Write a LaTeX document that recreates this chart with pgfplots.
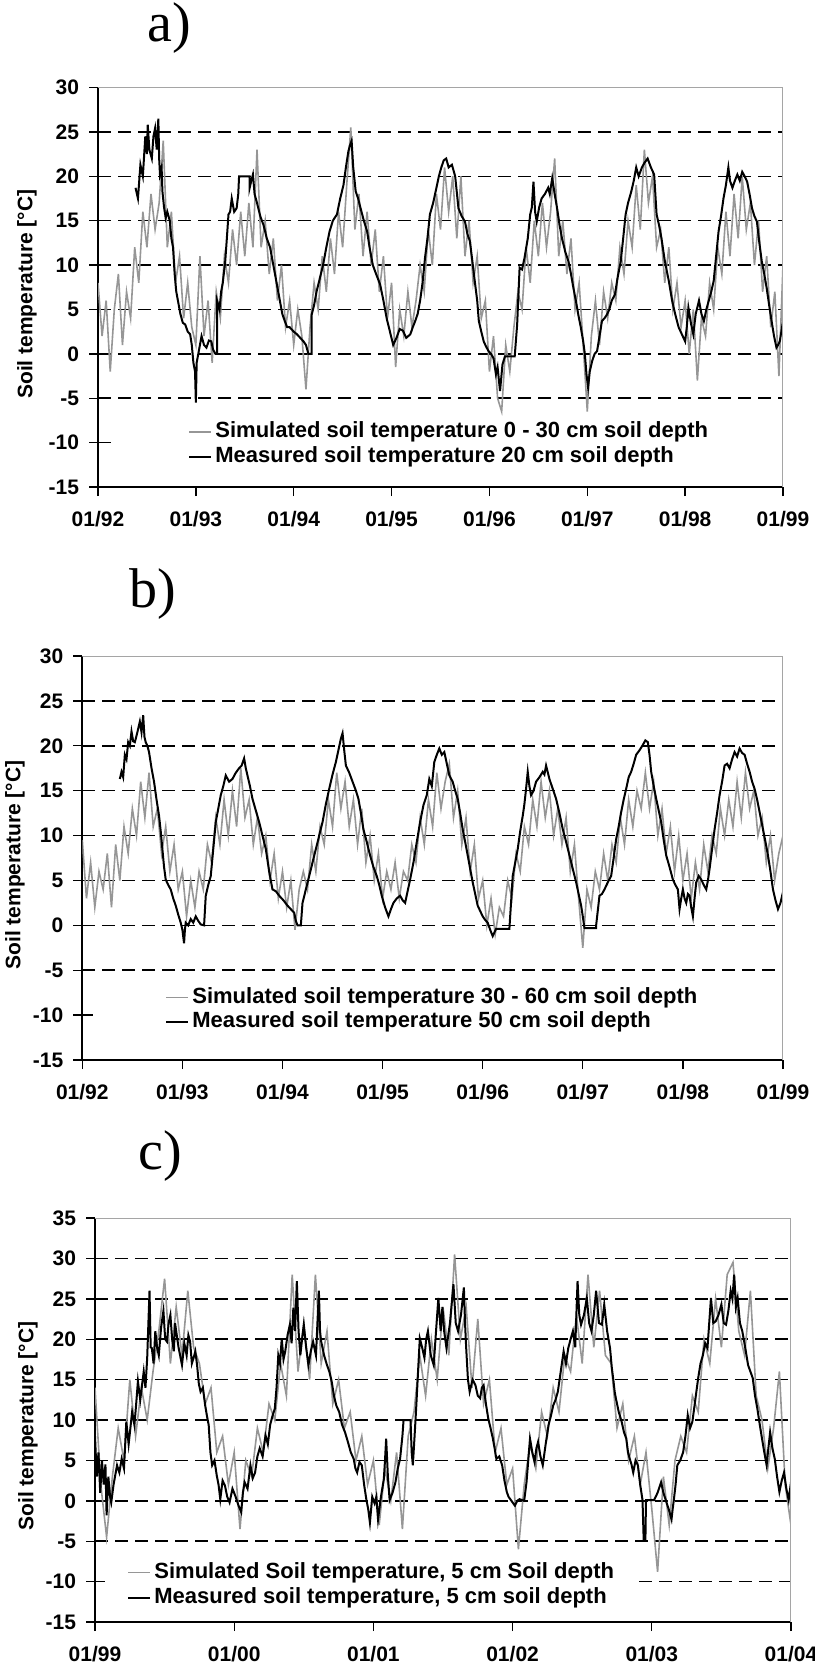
\documentclass[border=0pt]{standalone}
\usepackage{fontspec}
\setmainfont{Liberation Sans}
\newfontfamily\panelfont{Liberation Serif}
\usepackage{pgfplots}
\pgfplotsset{compat=1.18}
\definecolor{simgray}{RGB}{150,150,150}
\definecolor{framegray}{RGB}{165,165,165}

\pgfplotsset{
  soilaxis/.style={
    scale only axis,
    axis x line=bottom, axis y line=left,
    axis line style={-, line width=0.8pt, black},
    tick align=outside,
    major tick length=4.5pt,
    tick style={black, line width=0.7pt},
    ymajorgrids,
    major grid style={black, line width=0.75pt, dash pattern=on 6.5pt off 3.5pt},
    extra y tick style={grid=none},
    tick label style={font=\fontsize{10.5}{12}\selectfont\bfseries},
    xticklabel style={yshift=-4pt},
    yticklabel style={xshift=-1.5pt},
    ylabel={Soil temperature [°C]},
    ylabel style={font=\fontsize{10.5}{12}\selectfont\bfseries, anchor=center},
    title style={font=\panelfont\fontsize{28}{30}\selectfont, anchor=center},
    legend style={draw=none, fill=none, inner sep=0pt, row sep=2pt, column sep=1.5pt,
      font=\fontsize{11}{13}\selectfont\bfseries,
      nodes={inner sep=0pt, text height=8pt, text depth=2.5pt}, anchor=west},
    legend cell align=left,
    legend image code/.code={\draw[#1] (0pt,0pt) -- (11pt,0pt);},
  },
  sim/.style={simgray, line width=0.8pt},
  meas/.style={black, line width=1pt},
  gridpiece/.style={black, line width=0.75pt, dash pattern=on 6.5pt off 3.5pt, forget plot},
}

\begin{document}
\begin{tikzpicture}
\useasboundingbox (0,0) rectangle (407pt,-834pt);

% ---------------- a) ----------------
\begin{axis}[soilaxis,
  at={(49pt,-243.5pt)}, anchor=south west,
  width=342.5pt, height=199.75pt,
  xmin=0, xmax=84, ymin=-15, ymax=30,
  xtick={0,12,...,84},
  xticklabels={01/92,01/93,01/94,01/95,01/96,01/97,01/98,01/99},
  ytick={-5,0,...,25}, yticklabels={-5,0,5,10,15,20,25},
  extra y ticks={-15,-10,30}, extra y tick labels={-15,-10,30},
  ylabel style={at={(axis description cs:-0.1036,0.4825)}},
  title={a)}, title style={at={(axis description cs:0.1036,1.119)}},
  legend style={at={(axis description cs:0.1314,0.106)}},
]
\addplot[gridpiece] coordinates {(0,-10)(1.65,-10)};
\addplot[sim] coordinates {
(0,8)(0.5,2)(1,6)(1.5,-2)(2,5)(2.5,9)(3,1)(3.5,7)(4,4)(4.5,12)(5,8)(5.5,16)(6,12)(6.5,18)(7,14)(7.5,17)(8,24)(8.5,12)(9,16)(9.5,8)
(10,11)(10.5,4)(11,8)(11.5,3)(12,1)(12.5,11)(13,2)(13.5,6)(14,-1)(14.5,7)(15,4)(15.5,11)(16,8)(16.5,14)(17,10)(17.5,16)(18,11)(18.5,17)(19,12)(19.5,23)
(20,12)(20.5,15)(21,9)(21.5,13)(22,6)(22.5,10)(23,3)(23.5,6)(24,1)(24.5,5)(25,2)(25.5,-4)(26,3)(26.5,8)(27,5)(27.5,11)(28,7)(28.5,13)(29,9)(29.5,16)
(30,12)(30.5,19)(31,25.5)(31.5,14)(32,18)(32.5,11)(33,16)(33.5,10)(34,14)(34.5,7)(35,11)(35.5,4)(36,8)(36.5,-1.5)(37,5)(37.5,2)(38,7)(38.5,3)(39,6)(39.5,10)
(40,7)(40.5,14)(41,10)(41.5,18)(42,14)(42.5,21)(43,16)(43.5,20)(44,13)(44.5,20)(45,11)(45.5,15)(46,8)(46.5,11)(47,4)(47.5,6)(48,-2)(48.5,2)(49,-5)(49.5,-6.5)
(50,1)(50.5,-2)(51,3)(51.5,7)(52,5)(52.5,12)(53,8)(53.5,15)(54,11)(54.5,17)(55,12)(55.5,16)(56,22)(56.5,11)(57,15)(57.5,9)(58,13)(58.5,5)(59,8)(59.5,1)
(60,-6.5)(60.5,2)(61,6)(61.5,1)(62,7)(62.5,4)(63,8)(63.5,6)(64,12)(64.5,9)(65,15)(65.5,12)(66,19)(66.5,14)(67,23)(67.5,17)(68,20)(68.5,12)(69,14)(69.5,8)
(70,12)(70.5,5)(71,8)(71.5,3)(72,6)(72.5,0)(73,5)(73.5,-3)(74,4)(74.5,2)(75,8)(75.5,5)(76,12)(76.5,9)(77,16)(77.5,11)(78,18)(78.5,13)(79,20)(79.5,14)
(80,17)(80.5,10)(81,15)(81.5,7)(82,11)(82.5,3)(83,7)(83.5,-2.5)(84,10)
};
\addlegendentry{Simulated soil temperature 0 - 30 cm soil depth}
\addplot[meas] coordinates {
(4.6,18.7)(4.9,17.5)(5.2,21.3)(5.5,20)(5.8,24.5)(6.0,22.5)(6.1,25.8)(6.3,23)(6.6,22)(6.8,24.5)(7.0,25.4)(7.2,23)(7.4,26.5)(7.5,22)(7.6,20.2)(7.8,21)(7.9,18.3)(8.1,16.5)(8.3,15.3)(8.5,16)
(8.8,15)(9.0,13)(9.2,12)(9.4,9)(9.6,7)(9.8,6)(10.1,4.5)(10.4,3.5)(10.7,3.3)(11.0,2.5)(11.3,2.2)(11.5,1)(11.7,-1)(11.9,-2)(12.0,-5.5)(12.1,-1)(12.3,0)(12.5,1)(12.7,2)(13.0,1)
(13.3,0.7)(13.6,1.5)(13.9,1.4)(14.1,0.5)(14.4,0)(14.6,0)(14.6,6)(14.9,5)(15.1,7)(15.3,8)(15.6,10.4)(15.8,13)(16.0,15.7)(16.2,16)(16.4,17.5)(16.7,16)(17.0,16.4)(17.2,18)(17.3,20)(18.6,20)
(18.6,18.7)(18.8,19.5)(19.0,20.2)(19.2,18)(19.5,17)(19.9,15.5)(20.3,14.5)(20.7,13)(21.1,12)(21.4,10.5)(21.7,9)(22.0,7.5)(22.3,6)(22.6,4.5)(22.9,3.7)(23.2,3)(23.5,3)(24.0,2.5)(24.4,2.2)(24.8,1.8)
(25.2,1.4)(25.5,1)(25.8,0)(26.2,0)(26.2,4.4)(26.5,5.5)(26.8,7)(27.2,8.5)(27.6,10)(28.0,12)(28.4,13.8)(28.8,15)(29.3,15.7)(29.7,17.5)(30.1,19)(30.4,21)(30.7,22.8)(30.9,23.5)(31.1,24)(31.3,21)
(31.6,18.3)(31.9,17.5)(32.2,16.4)(32.6,15)(33.0,13.8)(33.3,12)(33.7,10)(34.1,9)(34.6,7.8)(35.0,6)(35.4,4)(35.8,2.5)(36.2,1)(36.6,1.8)(37.0,2.8)(37.4,2.6)(37.8,1.8)(38.3,2.2)(38.6,3)(38.9,3.7)
(39.2,4.5)(39.5,6)(39.8,8)(40.1,10.8)(40.4,13)(40.7,15.7)(41.1,17)(41.5,18.7)(41.8,20)(42.1,21)(42.4,21.8)(42.7,22)(43.0,21)(43.4,21.3)(43.8,20)(44.2,16.4)(44.6,15.5)(45.0,14.9)(45.3,13.5)(45.6,12.7)
(45.9,10.5)(46.2,8.2)(46.5,6)(46.7,3.7)(47.0,2.5)(47.3,1.4)(47.6,0.8)(47.9,0.3)(48.2,0)(48.5,-0.5)(48.8,-2.3)(49.0,-1.5)(49.3,-4.2)(49.6,-1.2)(49.9,-0.3)(51.1,-0.3)(51.4,3.3)(51.7,9.7)(52.0,9.5)(52.3,10.8)
(52.7,13)(53.0,15.7)(53.2,16.5)(53.4,19.4)(53.6,16)(53.8,14.9)(54.1,16.5)(54.4,17.5)(54.8,18)(55.2,18.7)(55.4,18)(55.7,19.8)(56.0,18)(56.3,16.4)(56.6,14.5)(56.9,13)(57.3,11.5)(57.7,10.4)(58.0,9)(58.3,7.4)
(58.6,6)(58.9,4.4)(59.2,3)(59.5,1.4)(59.7,0)(59.9,-2.3)(60.1,-3.8)(60.3,-2)(60.6,-0.8)(60.9,0)(61.2,0.3)(61.5,2)(61.8,3.7)(62.1,4)(62.4,4.4)(62.7,5)(63.0,6)(63.4,6.7)(63.7,8.5)(64.1,10.4)
(64.4,13)(64.7,15.7)(65.0,17)(65.4,18.3)(65.7,19.5)(66.0,21)(66.3,20)(66.7,21)(67.0,21.5)(67.4,22)(67.8,21)(68.2,20.2)(68.5,15.7)(68.8,14.5)(69.1,13)(69.5,10.5)(70.0,8.2)(70.4,6)(70.8,4.4)(71.2,3)
(71.6,2.2)(72.0,1.4)(72.2,3)(72.4,5.2)(72.7,3.5)(73.0,2.2)(73.3,4.5)(73.7,6)(74.0,4.5)(74.3,3.7)(74.6,5)(74.9,6)(75.2,7)(75.5,8.2)(75.8,11)(76.1,13.8)(76.4,15.5)(76.7,17.5)(77.0,19)(77.3,21)
(77.5,19.5)(77.8,18.7)(78.1,19.5)(78.4,20.2)(78.7,19.5)(79.0,20.5)(79.3,20)(79.6,19.4)(79.9,18)(80.2,16.4)(80.5,15.5)(80.8,14.9)(81.1,12.5)(81.4,10.4)(81.7,9)(82.0,7.4)(82.3,5.5)(82.6,3.7)(82.9,2)(83.2,0.7)
(83.4,1)(83.6,1.4)(83.8,2.5)(84.0,3.7)
};
\addlegendentry{Measured soil temperature 20 cm soil depth}
\draw[framegray, line width=0.5pt] (rel axis cs:0,1) -- (rel axis cs:1,1) -- (rel axis cs:1,0);
\end{axis}

% ---------------- b) ----------------
\begin{axis}[soilaxis,
  at={(41.15pt,-530pt)}, anchor=south west,
  width=350.35pt, height=202pt,
  xmin=0, xmax=84, ymin=-15, ymax=30,
  xtick={0,12,...,84},
  xticklabels={01/92,01/93,01/94,01/95,01/96,01/97,01/98,01/99},
  ytick={-5,0,...,25}, yticklabels={-5,0,5,10,15,20,25},
  extra y ticks={-15,-10,30}, extra y tick labels={-15,-10,30},
  ylabel style={at={(axis description cs:-0.096,0.4827)}},
  title={b)}, title style={at={(axis description cs:0.1009,1.124)}},
  legend style={at={(axis description cs:0.118,0.1238)}},
]
\addplot[gridpiece] coordinates {(0,-10)(1.28,-10)};
\addplot[sim] coordinates {
(0,9.5)(0.5,3)(1,7)(1.5,2)(2,6)(2.5,4)(3,8)(3.5,2)(4,9)(4.5,5)(5,11)(5.5,8)(6,13)(6.5,10)(7,16)(7.5,12)(8,17)(8.5,11)(9,13)(9.5,8)
(10,11)(10.5,6)(11,9)(11.5,4)(12,6)(12.5,1)(13,5)(13.5,2)(14,6)(14.5,4)(15,9)(15.5,7)(16,12)(16.5,9)(17,14)(17.5,10)(18,15)(18.5,11)(19,17.5)(19.5,12)
(20,14)(20.5,9)(21,12)(21.5,8)(22,10)(22.5,5)(23,8)(23.5,3)(24,6)(24.5,2)(25,5)(25.5,-0.5)(26,4)(26.5,6)(27,4)(27.5,9)(28,6)(28.5,11)(29,9)(29.5,14)
(30,11)(30.5,17)(31,13)(31.5,16)(32,11)(32.5,14)(33,9)(33.5,13)(34,7)(34.5,10)(35,5)(35.5,8)(36,3)(36.5,6)(37,4)(37.5,7)(38,3)(38.5,6)(39,5)(39.5,9)
(40,7)(40.5,12)(41,9)(41.5,14)(42,11)(42.5,17)(43,13)(43.5,16)(44,18)(44.5,12)(45,15)(45.5,9)(46,12)(46.5,6)(47,9)(47.5,3)(48,5)(48.5,0)(49,3)(49.5,-1)
(50,2)(50.5,1)(51,5)(51.5,3)(52,8)(52.5,6)(53,11)(53.5,9)(54,14)(54.5,11)(55,16)(55.5,12)(56,15)(56.5,10)(57,13)(57.5,9)(58,12)(58.5,6)(59,9)(59.5,3)
(60,-2.5)(60.5,4)(61,2)(61.5,6)(62,4)(62.5,8)(63,5)(63.5,9)(64,7)(64.5,12)(65,9)(65.5,14)(66,11)(66.5,15)(67,13)(67.5,17)(68,13)(68.5,16)(69,10)(69.5,13)
(70,8)(70.5,11)(71,6)(71.5,10)(72,5)(72.5,8)(73,3)(73.5,7)(74,4)(74.5,9)(75,6)(75.5,10)(76,8)(76.5,13)(77,10)(77.5,14)(78,11)(78.5,16)(79,12)(79.5,17)
(80,13)(80.5,15)(81,10)(81.5,12)(82,7)(82.5,10)(83,5)(83.5,8)(84,10)
};
\addlegendentry{Simulated soil temperature 30 - 60 cm soil depth}
\addplot[meas] coordinates {
(4.5,16.3)(4.7,17.1)(4.9,16.5)(5.1,19)(5.3,18.5)(5.5,20.4)(5.7,20)(5.9,21.6)(6.1,20.5)(6.3,20.4)(6.6,21.5)(6.9,22.7)(7.1,21.5)(7.3,23.4)(7.45,21)(7.6,20.4)(7.8,20)(8.0,19.3)(8.3,17.5)(8.6,16)
(8.9,14)(9.2,12.2)(9.4,10.5)(9.6,8.5)(9.8,6.5)(10.0,5.1)(10.3,4.5)(10.6,4)(10.9,3)(11.2,2.2)(11.5,1.2)(11.8,0.3)(12.0,-0.5)(12.2,-2)(12.3,-0.5)(12.4,0.3)(12.7,0)(13.0,0.7)(13.3,0.3)(13.6,1)
(13.9,0.5)(14.2,0.1)(14.6,0)(14.8,3.3)(15.1,4.5)(15.4,5.5)(15.7,8.5)(16.0,11.5)(16.3,13)(16.6,14.5)(16.9,15.5)(17.2,16.7)(17.6,16)(18.0,16.3)(18.4,17)(18.8,17.5)(19.1,17.8)(19.4,18.6)(19.6,17.5)(19.8,16.7)
(20.1,15.5)(20.4,14.1)(20.8,12.8)(21.2,11.5)(21.6,10)(22.0,8.5)(22.4,6)(22.8,4)(23.2,3.8)(23.6,3.3)(24.1,2.8)(24.6,2.2)(25.0,1.8)(25.4,1.4)(25.6,0.5)(25.8,0)(26.2,0)(26.4,2.5)(26.8,4)(27.2,5.5)
(27.6,7)(28.0,8.5)(28.4,10)(28.8,11.5)(29.2,13.5)(29.6,15.2)(30.0,16.8)(30.4,18.2)(30.7,19.5)(31.0,20.8)(31.2,21.4)(31.4,19.5)(31.6,17.8)(32.0,17)(32.4,16)(32.8,15)(33.1,14.1)(33.4,12.5)(33.7,10.7)(34.1,9.3)
(34.5,7.8)(34.9,6.5)(35.3,5.5)(35.6,4.5)(35.9,3.3)(36.3,2)(36.7,1)(37.0,1.8)(37.3,2.5)(37.7,3)(38.1,3.3)(38.4,2.8)(38.7,2.5)(39.0,3.8)(39.3,5.1)(39.7,7)(40.1,9.3)(40.5,11.5)(40.9,13.4)(41.3,14.5)
(41.6,16.3)(41.9,15.5)(42.2,18.2)(42.5,19)(42.8,19.7)(43.1,19)(43.4,19.3)(43.7,18)(44.0,16.7)(44.4,16)(44.7,15)(45.0,14.1)(45.3,12.5)(45.6,10.7)(45.9,9.3)(46.2,7.8)(46.5,6.3)(46.8,4.8)(47.1,3.5)(47.4,2.2)
(47.7,1.6)(48.0,1)(48.3,0.6)(48.6,0.3)(48.9,-0.5)(49.2,-1.2)(49.4,-0.8)(49.6,-0.4)(51.2,-0.4)(51.6,5.5)(51.9,7)(52.2,8.5)(52.5,10.5)(52.8,12.2)(53.0,13.5)(53.2,15.2)(53.4,17.1)(53.6,15.5)(53.8,14.5)(54.1,15)
(54.4,16)(54.8,16.5)(55.2,17.1)(55.4,16.8)(55.6,17.8)(56.0,16.3)(56.4,15.2)(56.8,14.1)(57.2,12.5)(57.6,10.7)(58.0,9.3)(58.4,7.8)(58.8,6.3)(59.2,4.8)(59.5,3.5)(59.8,2.2)(60.0,1)(60.2,-0.3)(61.6,-0.3)(61.6,0)
(62.0,3.3)(62.3,3.5)(62.6,4)(63.0,4.8)(63.4,5.5)(63.7,7.5)(64.0,9.6)(64.3,11)(64.6,12.6)(64.9,14)(65.2,15.2)(65.5,16.5)(65.8,17.1)(66.1,18)(66.4,19)(66.8,19.5)(67.2,20.1)(67.5,20.6)(67.8,20.4)(68.0,19)
(68.2,17.1)(68.5,15.5)(68.8,14.1)(69.1,12.8)(69.4,11.5)(69.7,9.5)(70.0,7.8)(70.4,6.5)(70.8,5.1)(71.1,4.5)(71.4,4)(71.6,1.8)(71.8,3)(72.0,4)(72.2,3)(72.4,2.5)(72.6,3.5)(72.8,3.3)(73.0,2)(73.2,1)
(73.4,3)(73.6,4.8)(73.9,5.5)(74.2,5.1)(74.5,4.5)(74.8,4)(75.0,5)(75.2,6.3)(75.5,8.5)(75.8,10.7)(76.1,12.5)(76.4,14.5)(76.7,16)(77.0,17.8)(77.3,18)(77.6,17.5)(77.9,18.5)(78.2,19.3)(78.5,18.8)(78.8,19.7)
(79.1,19.2)(79.4,19)(79.7,18)(80.0,17.1)(80.3,16)(80.6,15.2)(80.9,14)(81.2,12.6)(81.6,10.7)(81.9,9.3)(82.2,7.8)(82.5,6)(82.8,4)(83.1,2.8)(83.4,1.8)(83.7,2.5)(84.0,3.7)
};
\addlegendentry{Measured soil temperature 50 cm soil depth}
\draw[framegray, line width=0.5pt] (rel axis cs:0,1) -- (rel axis cs:1,1) -- (rel axis cs:1,0);
\end{axis}

% ---------------- c) ----------------
\begin{axis}[soilaxis,
  at={(47.5pt,-811pt)}, anchor=south west,
  width=348pt, height=202pt,
  xmin=0, xmax=60, ymin=-15, ymax=35,
  xtick={0,12,...,60},
  xticklabels={01/99,01/00,01/01,01/02,01/03,01/04},
  ytick={-5,0,...,30}, yticklabels={-5,0,5,10,15,20,25,30},
  extra y ticks={-15,-10,35}, extra y tick labels={-15,-10,35},
  ylabel style={at={(axis description cs:-0.0963,0.485)}},
  title={c)}, title style={at={(axis description cs:0.0934,1.124)}},
  legend style={at={(axis description cs:0.046,0.0916)}},
]
\addplot[gridpiece] coordinates {(0,-10)(0.86,-10)};
\addplot[gridpiece] coordinates {(46.9,-10)(60,-10)};
\addplot[sim] coordinates {
(0,14)(0.5,2)(1,-4.5)(1.5,3)(2,9)(2.5,5)(3,15)(3.5,8)(4,14)(4.5,10)(5,16)(5.5,21)(6,27.5)(6.5,17)(7,24)(7.5,18)(8,26)(8.5,19)(9,17)(9.5,12)
(10,14)(10.5,6)(11,8)(11.5,2)(12,6)(12.5,-3.5)(13,5)(13.5,3)(14,9)(14.5,6)(15,12)(15.5,10)(16,17)(16.5,13)(17,28)(17.5,16)(18,22)(18.5,15)(19,28)(19.5,17)
(20,21)(20.5,12)(21,15)(21.5,9)(22,11)(22.5,5)(23,8)(23.5,2)(24,5)(24.5,-3)(25,4)(25.5,0)(26,6)(26.5,-3.5)(27,8)(27.5,11)(28,18)(28.5,13)(29,20)(29.5,15)
(30,24)(30.5,18)(31,30.5)(31.5,20)(32,24)(32.5,14)(33,22.5)(33.5,12)(34,15)(34.5,6)(35,9)(35.5,2)(36,4)(36.5,-6)(37,2)(37.5,7)(38,4)(38.5,11)(39,8)(39.5,14)
(40,11)(40.5,18)(41,16)(41.5,23)(42,17)(42.5,28)(43,19)(43.5,26)(44,18)(44.5,17)(45,9)(45.5,12)(46,5)(46.5,8)(47,2)(47.5,6)(48,-1)(48.5,-8.8)(49,3)(49.5,-3)
(50,5)(50.5,8)(51,6)(51.5,13)(52,11)(52.5,20)(53,17)(53.5,25)(54,19)(54.5,28)(55,29.5)(55.5,21)(56,18)(56.5,26)(57,13)(57.5,10)(58,4)(58.5,9)(59,16)(59.5,2)
(60,-3)
};
\addlegendentry{Simulated Soil temperature, 5 cm Soil depth}
\addplot[meas] coordinates {
(0,8)(0.15,3)(0.3,6)(0.45,1)(0.6,5)(0.75,2)(0.9,4.5)(1.0,-1.8)(1.15,3)(1.3,0.5)(1.4,-0.2)(1.6,2)(1.9,4.4)(2.1,3.5)(2.3,5.2)(2.5,4)(2.7,9.8)(2.9,7)(3.2,11)(3.4,9.4)
(3.55,12)(3.7,14.8)(3.9,12.5)(4.2,16)(4.35,14)(4.5,17.7)(4.7,26)(4.8,19)(4.9,18.9)(5.05,17)(5.2,21)(5.35,19)(5.5,18)(5.7,21.5)(5.9,23.5)(6.05,20)(6.2,19.7)(6.35,22)(6.5,23)(6.65,20)
(6.8,18.5)(6.9,22)(7.0,21)(7.2,19)(7.5,16.8)(7.7,19.5)(7.9,18)(8.05,20.5)(8.2,19.7)(8.35,17)(8.5,17.7)(8.65,18.5)(8.8,16.8)(8.95,14.5)(9.1,13.5)(9.3,14)(9.5,11.8)(9.65,10.5)(9.8,9.4)(9.95,6)
(10.1,4.4)(10.3,5)(10.5,3.1)(10.65,2)(10.8,0.2)(11.0,2.5)(11.2,1.9)(11.4,0.5)(11.6,-0.2)(11.85,1.5)(12.1,0.6)(12.35,-0.5)(12.6,-1.4)(12.75,1)(12.9,2.3)(13.15,1.5)(13.4,4.4)(13.6,2.8)(13.8,3.5)(14.0,5.5)
(14.2,6.5)(14.45,5.5)(14.7,8.1)(14.9,7)(15.1,9.4)(15.3,10.5)(15.5,11.4)(15.65,14)(15.8,18)(15.95,17)(16.1,20.1)(16.25,17.5)(16.4,18.5)(16.6,20.5)(16.8,21.8)(16.95,19.5)(17.1,23.9)(17.25,21)(17.4,27.2)(17.55,21)
(17.7,18)(17.85,20)(18.0,21.8)(18.2,19)(18.4,16.8)(18.6,18.5)(18.8,19.7)(19.05,18)(19.3,26)(19.4,21)(19.5,19.7)(19.75,18)(20.0,16.8)(20.2,16)(20.4,14.8)(20.6,13)(20.8,11.8)(21.05,11)(21.3,9.4)(21.55,8.5)
(21.8,7.3)(22.05,6)(22.3,5.2)(22.45,4)(22.6,3.5)(22.8,4.8)(23.0,4.4)(23.2,2)(23.4,0.1)(23.55,-1)(23.7,-2.7)(23.9,0.5)(24.1,-0.3)(24.25,0.5)(24.4,-2.3)(24.65,0.5)(24.9,2.7)(25.0,5)(25.1,7.7)(25.25,3)
(25.4,0.1)(25.65,1)(25.9,2.3)(26.1,4)(26.3,5.2)(26.5,8)(26.6,10)(27.2,10)(27.3,6)(27.4,4.4)(27.55,8)(27.7,11.8)(27.85,16)(28.0,20.1)(28.2,19)(28.4,17.7)(28.55,20)(28.7,21)(28.95,18)(29.2,16.8)
(29.4,21)(29.6,25.1)(29.8,21)(29.95,24)(30.1,21)(30.3,18.9)(30.6,22)(30.9,26.8)(31.1,22)(31.3,21)(31.55,23)(31.8,26.4)(31.9,22)(32.0,18.9)(32.15,15)(32.3,13.5)(32.55,15)(32.8,14.3)(33.0,13)(33.2,12.7)
(33.35,14)(33.5,14.3)(33.7,12)(33.9,10.2)(34.1,9)(34.3,7.7)(34.45,6.5)(34.6,5.2)(34.85,5.5)(35.1,4.4)(35.3,2.5)(35.5,1.1)(35.65,0.5)(35.8,0.2)(36.0,-0.2)(36.2,-0.6)(36.4,0)(36.6,0.2)(37.0,0)(37.2,2.3)
(37.35,5)(37.5,7.7)(37.7,6)(37.9,4.8)(38.05,6.5)(38.2,7.3)(38.4,5.5)(38.6,4.4)(38.85,7)(39.1,9.4)(39.3,10.5)(39.5,11.8)(39.7,12.5)(39.9,13.5)(40.15,16)(40.4,18.5)(40.6,17)(40.8,18.9)(41.0,20)(41.2,21)
(41.4,19)(41.6,27.2)(41.75,23)(41.9,21.8)(42.15,23)(42.4,25.1)(42.6,22)(42.8,21)(43.0,23)(43.2,26)(43.45,22)(43.7,21.8)(43.8,23)(43.9,24.3)(44.15,21)(44.4,18.9)(44.55,16.5)(44.7,14.8)(44.8,13.5)(44.9,12.7)
(45.15,11)(45.4,9.8)(45.6,8.5)(45.8,7.7)(45.95,6)(46.1,5.2)(46.25,4.5)(46.4,3.5)(46.6,5)(46.8,4.4)(47.0,2)(47.2,0.1)(47.3,-4.8)(47.45,-4.8)(47.5,0.1)(47.7,0.1)(48.2,0.1)(48.5,1)(48.8,2.3)(49.0,1)
(49.2,0.1)(49.45,-1)(49.7,-2.3)(49.8,-1)(49.9,0.1)(50.05,2)(50.2,4.4)(50.45,5)(50.7,6)(50.9,8)(51.1,10.6)(51.3,9)(51.5,9.8)(51.75,12.5)(52.0,15.2)(52.2,17)(52.4,18)(52.6,19.5)(52.8,18.9)(52.95,22)
(53.1,25.1)(53.3,22)(53.5,22.2)(53.75,23)(54.0,24.3)(54.2,22)(54.4,21.8)(54.6,23.5)(54.8,26)(54.95,25)(55.1,28)(55.25,24)(55.4,25.1)(55.6,22)(55.8,21)(56.05,19)(56.3,16.8)(56.5,16)(56.7,15.2)(56.9,13)
(57.1,11.4)(57.3,9.5)(57.5,7.7)(57.7,6)(57.9,4.4)(58.05,6.5)(58.2,8.5)(58.4,6.5)(58.6,5.2)(58.8,3)(59.0,1.1)(59.2,2.5)(59.4,3.5)(59.6,1.5)(59.8,0.1)(60.0,2.3)
};
\addlegendentry{Measured soil temperature, 5 cm soil depth}
\draw[framegray, line width=0.5pt] (rel axis cs:0,1) -- (rel axis cs:1,1) -- (rel axis cs:1,0);
\end{axis}
\end{tikzpicture}
\end{document}
